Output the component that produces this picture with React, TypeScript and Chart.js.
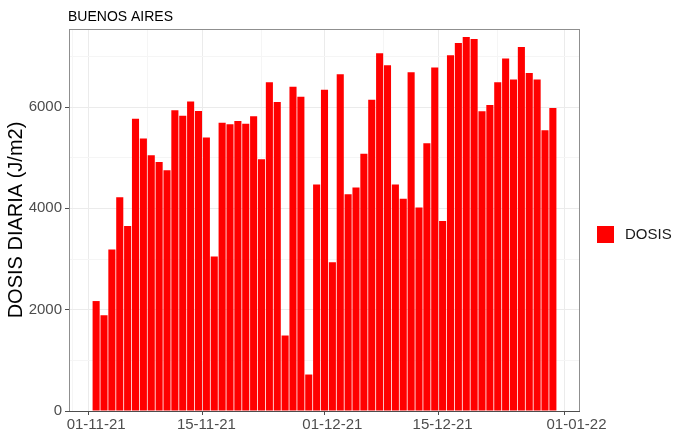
import React, { useEffect, useRef } from "react";
import { Chart, registerables } from "chart.js";

Chart.register(...registerables);

// Daily doses from 01-11-21 (day 0) to 29-12-21 (day 58)
const dosis: number[] = [
  2170, 1890, 3190, 4220, 3650, 5770, 5380, 5050, 4915, 4750,
  5935, 5830, 6110, 5920, 5400, 3050, 5690, 5660, 5725, 5670,
  5820, 4970, 6490, 6100, 1490, 6400, 6205, 720, 4470, 6340,
  2935, 6645, 4280, 4410, 5080, 6145, 7060, 6825, 4470, 4190,
  6685, 4015, 5285, 6780, 3750, 7020, 7265, 7383, 7343, 5915,
  6040, 6490, 6960, 6545, 7185, 6670, 6545, 5540, 5980,
];
const seriesName = "DOSIS";
const chartTitle = "BUENOS AIRES";
const yTitle = "DOSIS DIARIA (J/m2)";

const xTickDays: number[] = [0, 14, 30, 44, 61];
const xTickLabels: string[] = ["01-11-21", "15-11-21", "01-12-21", "15-12-21", "01-01-22"];
const xMinorDays: number[] = [-2, 13, 28, 43, 58];
const yMajorTicks: number[] = [0, 2000, 4000, 6000];
const yMinorTicks: number[] = [1000, 3000, 5000, 7000];

const FONT = "'Liberation Sans', Arial, sans-serif";

const near = (arr: number[], v: number) => arr.some((a) => Math.abs(a - v) < 1e-6);

const decorPlugin = {
  id: "decor",
  beforeDraw(chart: any) {
    const { ctx, width, height } = chart;
    ctx.save();
    ctx.fillStyle = "#ffffff";
    ctx.fillRect(0, 0, width, height);
    ctx.restore();
  },
  afterDraw(chart: any) {
    const { ctx, chartArea } = chart;
    const { left, right, top, bottom } = chartArea;
    ctx.save();
    ctx.strokeStyle = "#8f8f8f";
    ctx.lineWidth = 1;
    ctx.strokeRect(left + 0.5, top + 0.5, right - left - 1, bottom - top);
    ctx.strokeStyle = "#4d4d4d";
    ctx.beginPath();
    ctx.moveTo(left, bottom + 0.5);
    ctx.lineTo(right, bottom + 0.5);
    ctx.stroke();
    ctx.fillStyle = "#000000";
    ctx.font = `14px ${FONT}`;
    ctx.textAlign = "left";
    ctx.textBaseline = "middle";
    ctx.fillText(chartTitle, 68, 17);
    ctx.fillStyle = "#ff0000";
    ctx.fillRect(597, 226, 17, 17);
    ctx.fillStyle = "#1a1a1a";
    ctx.font = `15px ${FONT}`;
    ctx.fillText(seriesName, 625, 234.5);
    ctx.restore();
  },
};

export default function App() {
  const ref = useRef<HTMLCanvasElement | null>(null);

  useEffect(() => {
    if (!ref.current) return;
    const data = dosis.map((v, i) => ({ x: i, y: v }));
    const chart = new Chart(ref.current, {
      type: "bar",
      data: {
        datasets: [
          {
            label: seriesName,
            data,
            backgroundColor: "#ff0000",
            borderWidth: 0,
            barPercentage: 1,
            categoryPercentage: 0.9,
          },
        ],
      },
      plugins: [decorPlugin],
      options: {
        responsive: false,
        devicePixelRatio: 1,
        animation: false,
        layout: { padding: { left: 0, right: 94, top: 29, bottom: 0 } },
        plugins: {
          legend: { display: false },
          title: { display: false },
          tooltip: { enabled: false },
        },
        scales: {
          x: {
            type: "linear",
            min: -3.445,
            max: 61.445,
            offset: false,
            afterBuildTicks(scale: any) {
              const vals = [...xMinorDays, ...xTickDays].sort((a, b) => a - b);
              scale.ticks = vals.map((v) => ({ value: v }));
            },
            afterFit(scale: any) {
              scale.height = 24;
            },
            ticks: {
              autoSkip: false,
              maxRotation: 0,
              minRotation: 0,
              padding: 1,
              color: "#4d4d4d",
              font: { family: FONT, size: 15 },
              callback(value: any) {
                const idx = xTickDays.findIndex((d) => Math.abs(d - value) < 1e-6);
                return idx >= 0 ? xTickLabels[idx] : "";
              },
            },
            grid: {
              color: (c: any) => (near(xTickDays, c.tick?.value) ? "#ebebeb" : "#f5f5f5"),
              tickColor: (c: any) => (near(xTickDays, c.tick?.value) ? "#4d4d4d" : "rgba(0,0,0,0)"),
              tickLength: 4,
              lineWidth: 1,
            },
            border: { display: false },
          },
          y: {
            type: "linear",
            min: 0,
            max: 7540,
            afterBuildTicks(scale: any) {
              const vals = [...yMajorTicks, ...yMinorTicks].sort((a, b) => a - b);
              scale.ticks = vals.map((v) => ({ value: v }));
            },
            afterFit(scale: any) {
              scale.width = 69;
            },
            ticks: {
              autoSkip: false,
              padding: 3,
              color: "#4d4d4d",
              font: { family: FONT, size: 15 },
              callback(value: any) {
                return near(yMajorTicks, value) ? String(Math.round(value)) : "";
              },
            },
            grid: {
              color: (c: any) => (near(yMajorTicks, c.tick?.value) ? "#ebebeb" : "#f5f5f5"),
              tickColor: (c: any) => (near(yMajorTicks, c.tick?.value) ? "#4d4d4d" : "rgba(0,0,0,0)"),
              tickLength: 4,
              lineWidth: 1,
            },
            border: { display: false },
            title: {
              display: true,
              text: yTitle,
              color: "#000000",
              font: { family: FONT, size: 20 },
              padding: { top: 4, bottom: 0 },
            },
          },
        },
      },
    } as any);
    return () => chart.destroy();
  }, []);

  return (
    <div style={{ position: "fixed", left: 0, top: 0, width: 674, height: 435, background: "#fff" }}>
      <canvas ref={ref} width={674} height={435} style={{ display: "block" }} />
    </div>
  );
}
